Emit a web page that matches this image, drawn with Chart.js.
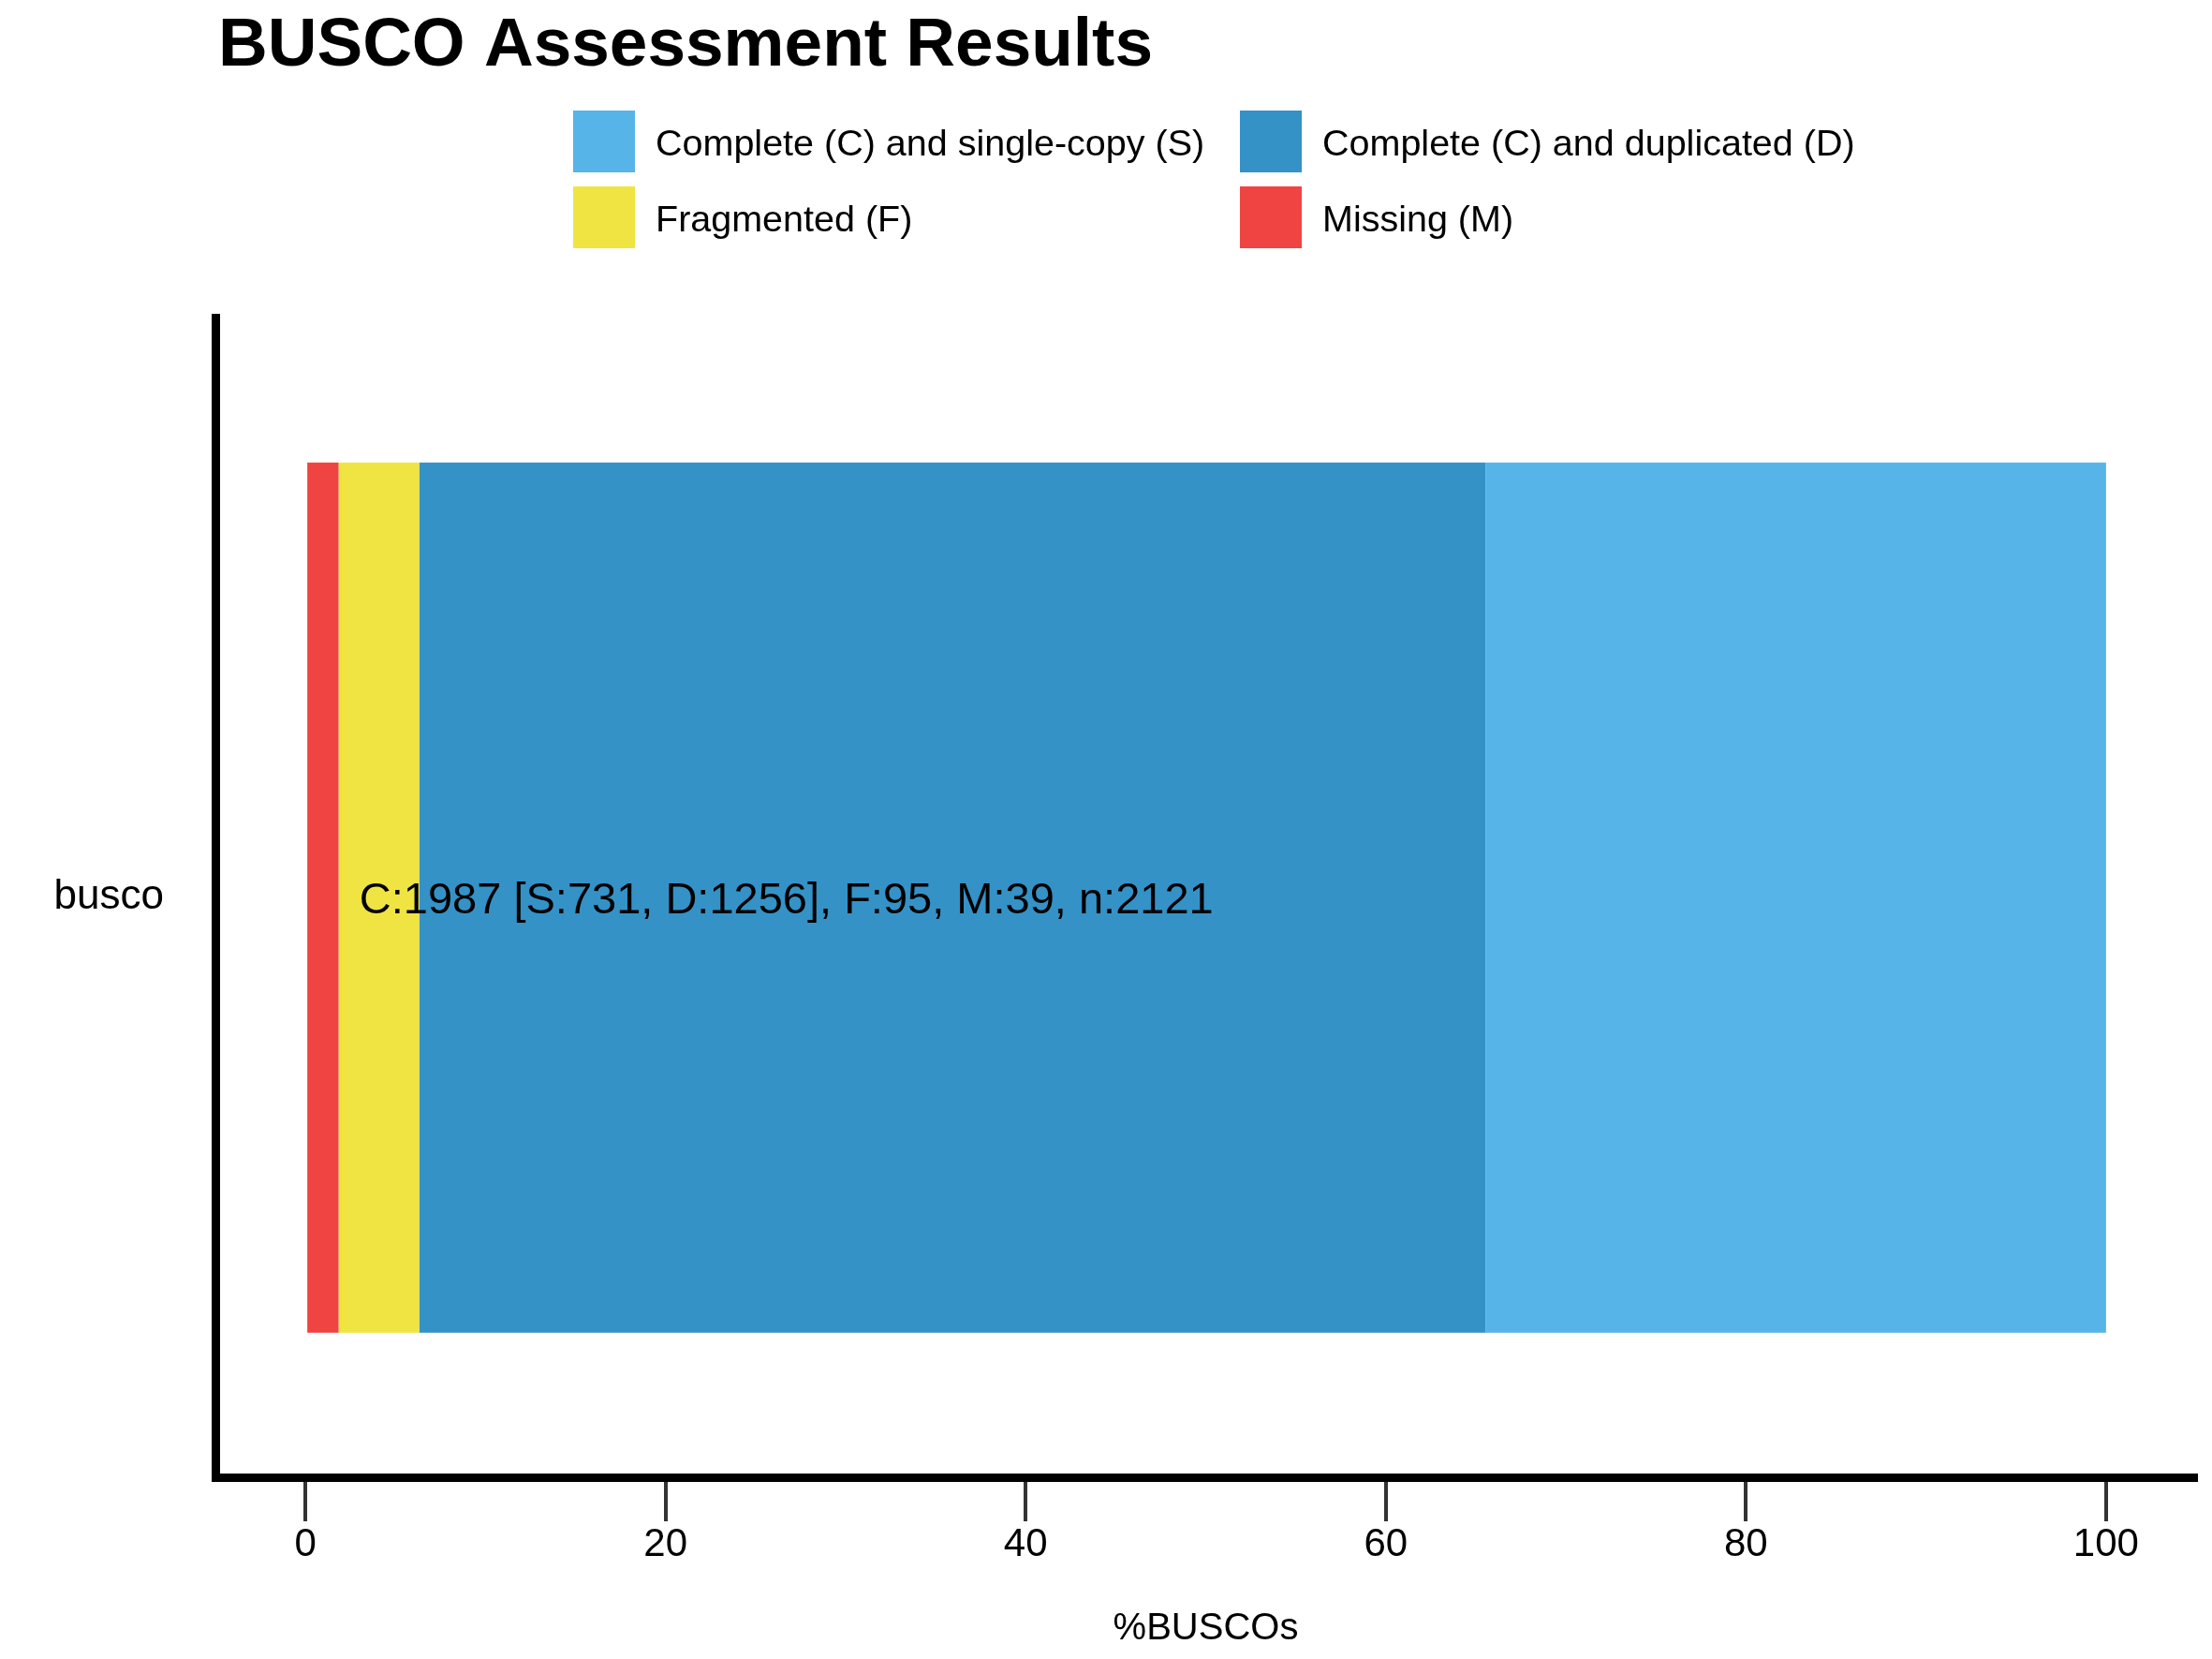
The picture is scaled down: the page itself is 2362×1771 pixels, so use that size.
<!DOCTYPE html>
<html>
<head>
<meta charset="utf-8">
<script src="https://cdn.jsdelivr.net/npm/chart.js@4.4.1/dist/chart.umd.min.js"></script>
<style>
  html, body { margin: 0; padding: 0; background: #ffffff; }
  #wrap { width: 2362px; height: 1771px; }
</style>
</head>
<body>
<div id="wrap"><canvas id="c" width="2362" height="1771"></canvas></div>
<script>
// ---- Data ----
const categories = ['busco'];
// stacking order left -> right
const seriesNames = ['Missing (M)', 'Fragmented (F)', 'Complete (C) and duplicated (D)', 'Complete (C) and single-copy (S)'];
const seriesColors = ['#F04442', '#F0E442', '#3492C7', '#56B4E9'];
const missingPct = [1.84];
const fragmentedPct = [4.48];
const duplicatedPct = [59.22];
const singlePct = [34.46];
const xTicks = [0, 20, 40, 60, 80, 100];
const xMin = -5, xMax = 105;
const legendOrder = ['Complete (C) and single-copy (S)', 'Complete (C) and duplicated (D)', 'Fragmented (F)', 'Missing (M)'];
const annotationText = 'C:1987 [S:731, D:1256], F:95, M:39, n:2121';
const annotationX = 3;
const chartTitle = 'BUSCO Assessment Results';
const xTitle = '%BUSCOs';

const FONT = "'Liberation Sans', Arial, Helvetica, sans-serif";
const values = [missingPct, fragmentedPct, duplicatedPct, singlePct];

const datasets = seriesNames.map((n, i) => ({
  label: n,
  data: values[i],
  backgroundColor: seriesColors[i],
  borderWidth: 0,
  barPercentage: 0.75,
  categoryPercentage: 1.0
}));

const overlayPlugin = {
  id: 'overlay',
  afterDatasetsDraw(chart) {
    const ctx = chart.ctx;
    const xs = chart.scales.x, ys = chart.scales.y;
    // annotation text
    ctx.save();
    ctx.font = `47px ${FONT}`;
    ctx.fillStyle = '#000000';
    ctx.textAlign = 'left';
    ctx.textBaseline = 'middle';
    ctx.fillText(annotationText, xs.getPixelForValue(annotationX), ys.getPixelForValue(0) + 4);
    ctx.restore();
  },
  afterDraw(chart) {
    const ctx = chart.ctx;
    const left = chart.chartArea.left;
    ctx.save();
    // title
    ctx.font = `bold 73px ${FONT}`;
    ctx.fillStyle = '#000000';
    ctx.textAlign = 'left';
    ctx.textBaseline = 'alphabetic';
    ctx.fillText(chartTitle, left + 3, 70);
    // legend (2 columns x 2 rows)
    const colX = [612, 1324];
    const rowY = [118, 199];
    const boxW = 66, boxH = 66, gap = 22;
    ctx.font = `39.5px ${FONT}`;
    ctx.textBaseline = 'alphabetic';
    legendOrder.forEach((name, k) => {
      const idx = seriesNames.indexOf(name);
      const cx = colX[k % 2], cy = rowY[Math.floor(k / 2)];
      ctx.fillStyle = seriesColors[idx];
      ctx.fillRect(cx, cy, boxW, boxH);
      ctx.fillStyle = '#000000';
      ctx.fillText(name, cx + boxW + gap, cy + boxH / 2 + 15);
    });
    ctx.restore();
  }
};

new Chart(document.getElementById('c'), {
  type: 'bar',
  data: { labels: categories, datasets },
  options: {
    indexAxis: 'y',
    responsive: false,
    devicePixelRatio: 1,
    animation: false,
    layout: { padding: { top: 339, right: 17, bottom: 0, left: 0 } },
    plugins: { legend: { display: false }, title: { display: false }, tooltip: { enabled: false } },
    scales: {
      x: {
        type: 'linear',
        stacked: true,
        min: xMin,
        max: xMax,
        afterBuildTicks(scale) { scale.ticks = xTicks.map(v => ({ value: v })); },
        afterFit(scale) { scale.height = 193.5; },
        grid: { display: true, drawOnChartArea: false, drawTicks: true, tickLength: 46.5, tickWidth: 4, tickColor: '#333333', lineWidth: 4 },
        border: { display: true, width: 9, color: '#000000' },
        ticks: { font: { family: FONT, size: 42 }, color: '#000000', padding: 0, maxRotation: 0, autoSkip: false },
        title: { display: true, text: xTitle, font: { family: FONT, size: 40 }, color: '#000000', padding: { top: 0, bottom: 8 } }
      },
      y: {
        type: 'category',
        stacked: true,
        afterFit(scale) { scale.width = 230; },
        grid: { display: true, drawOnChartArea: false, drawTicks: false },
        border: { display: true, width: 9, color: '#000000' },
        ticks: { font: { family: FONT, size: 44 }, color: '#000000', padding: 55 }
      }
    }
  },
  plugins: [overlayPlugin]
});
</script>
</body>
</html>
